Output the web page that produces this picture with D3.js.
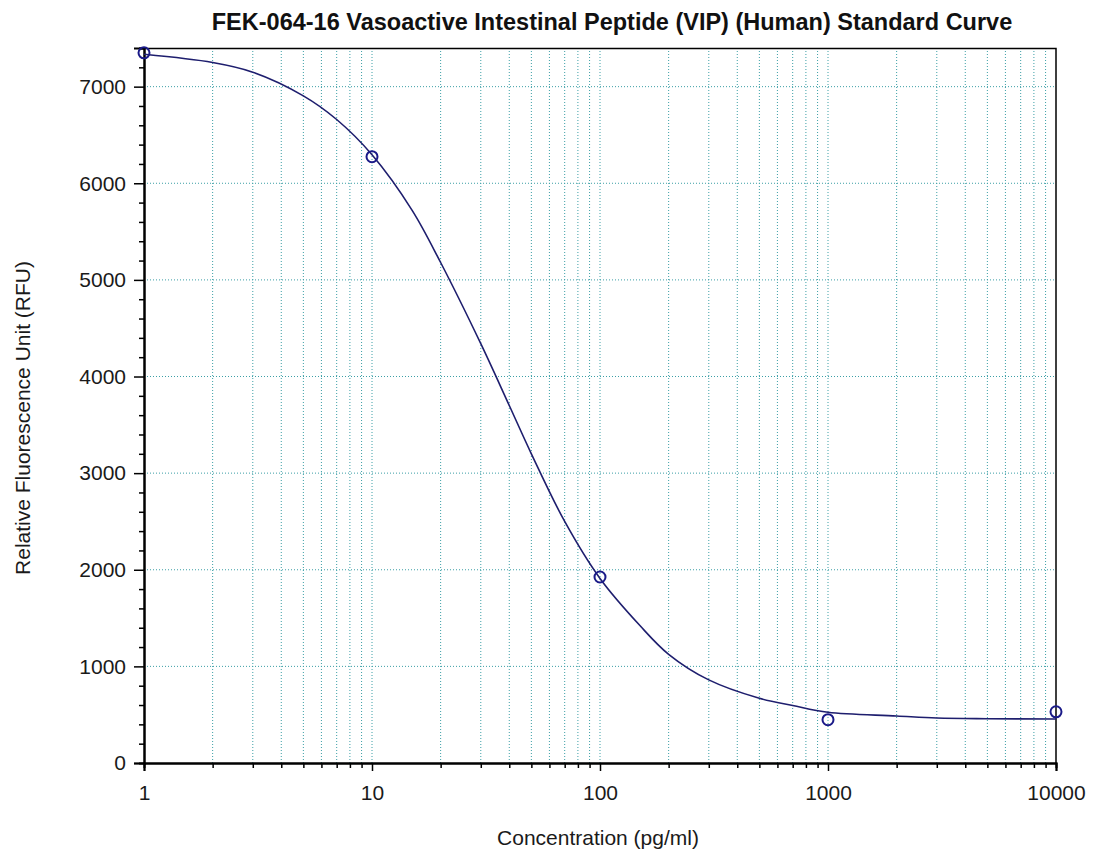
<!DOCTYPE html>
<html>
<head>
<meta charset="utf-8">
<script src="https://cdn.jsdelivr.net/npm/d3@7"></script>
<style>
  body { margin: 0; background: #fff; }
  svg { font-family: "Liberation Sans", Arial, sans-serif; }
</style>
</head>
<body>
<svg width="1096" height="854"></svg>
<script>
// standard points
const conc = [1, 10, 100, 1000, 10000];
const rfu = [7350, 6275, 1925, 448, 530];

// fitted curve
const curveConc = [1, 2, 3, 5, 7, 10, 15, 20, 30, 40, 50, 70, 100, 150, 200, 300, 500, 700, 1000, 2000, 3000, 5000, 10000];
const curveRfu = [7335, 7250, 7150, 6905, 6660, 6295, 5720, 5180, 4340, 3700, 3200, 2500, 1910, 1420, 1125, 860, 670, 595, 525, 487, 465, 458, 456];

const xMajor = [1, 10, 100, 1000, 10000];
const yMajor = [0, 1000, 2000, 3000, 4000, 5000, 6000, 7000];

const svg = d3.select('svg');
const margin = {top: 48, right: 40, bottom: 91, left: 144};
const width = 1096 - margin.left - margin.right;
const height = 854 - margin.top - margin.bottom;

const g = svg.append('g')
  .attr('transform', `translate(${margin.left},${margin.top})`);

const x = d3.scaleLog().domain([1, 10000]).range([0, width]);
const y = d3.scaleLinear().domain([0, 7400]).range([height, 0]);

// all log ticks 1..9 per decade
const xAll = x.ticks();
const yMinor = d3.range(0, 7401, 200);

// grid
const gridColor = '#3c9fa6';
g.append('g').selectAll('line')
  .data(xAll.filter(d => d > 1 && d < 10000))
  .join('line')
  .attr('x1', d => x(d)).attr('x2', d => x(d))
  .attr('y1', 0).attr('y2', height)
  .attr('stroke', gridColor)
  .attr('stroke-width', 1)
  .attr('stroke-dasharray', '1,2');

g.append('g').selectAll('line')
  .data(yMajor.filter(d => d > 0))
  .join('line')
  .attr('x1', 0).attr('x2', width)
  .attr('y1', d => y(d)).attr('y2', d => y(d))
  .attr('stroke', gridColor)
  .attr('stroke-width', 1)
  .attr('stroke-dasharray', '1,2');

// frame top/right
g.append('path')
  .attr('d', `M0,0.5H${width}V${height}`)
  .attr('fill', 'none')
  .attr('stroke', '#000')
  .attr('stroke-width', 1.5);

// axes
const xAxisMinor = d3.axisBottom(x)
  .tickValues(xAll.filter(d => !xMajor.includes(d)))
  .tickSize(5).tickFormat('');
const xAxis = d3.axisBottom(x)
  .tickValues(xMajor)
  .tickSize(8).tickPadding(14)
  .tickFormat(d3.format('d'));
const yAxisMinor = d3.axisLeft(y)
  .tickValues(yMinor.filter(d => !yMajor.includes(d)))
  .tickSize(5).tickFormat('');
const yAxis = d3.axisLeft(y)
  .tickValues(yMajor)
  .tickSize(10).tickPadding(8)
  .tickFormat(d3.format('d'));

function styleAxis(sel) {
  sel.select('.domain').attr('stroke', '#000').attr('stroke-width', 2);
  sel.selectAll('.tick line').attr('stroke', '#000').attr('stroke-width', 1.5);
  sel.selectAll('text').attr('font-size', 21).attr('fill', '#1a1a1a')
    .attr('font-family', '"Liberation Sans", Arial, sans-serif');
}

g.append('g').attr('transform', `translate(0,${height})`).call(xAxisMinor).call(styleAxis);
g.append('g').attr('transform', `translate(0,${height})`).call(xAxis).call(styleAxis);
g.append('g').call(yAxisMinor).call(styleAxis);
g.append('g').call(yAxis).call(styleAxis);

// fitted curve
const line = d3.line()
  .x((d, i) => x(curveConc[i]))
  .y(d => y(d))
  .curve(d3.curveCatmullRom.alpha(0.5));

g.append('path')
  .datum(curveRfu)
  .attr('d', line)
  .attr('fill', 'none')
  .attr('stroke', '#1e1e6e')
  .attr('stroke-width', 1.6);

// points
g.append('g').selectAll('circle')
  .data(rfu)
  .join('circle')
  .attr('cx', (d, i) => x(conc[i]))
  .attr('cy', d => y(d))
  .attr('r', 5.5)
  .attr('fill', 'none')
  .attr('stroke', '#1a1a88')
  .attr('stroke-width', 2);

// titles
svg.append('text')
  .attr('x', 612).attr('y', 30)
  .attr('text-anchor', 'middle')
  .attr('font-size', 23.5).attr('font-weight', 'bold')
  .attr('fill', '#111')
  .text('FEK-064-16 Vasoactive Intestinal Peptide (VIP) (Human) Standard Curve');

svg.append('text')
  .attr('x', 598).attr('y', 845)
  .attr('text-anchor', 'middle')
  .attr('font-size', 21).attr('fill', '#1a1a1a')
  .text('Concentration (pg/ml)');

svg.append('text')
  .attr('transform', 'translate(30,418) rotate(-90)')
  .attr('text-anchor', 'middle')
  .attr('font-size', 21).attr('fill', '#1a1a1a')
  .text('Relative Fluorescence Unit (RFU)');
</script>
</body>
</html>
